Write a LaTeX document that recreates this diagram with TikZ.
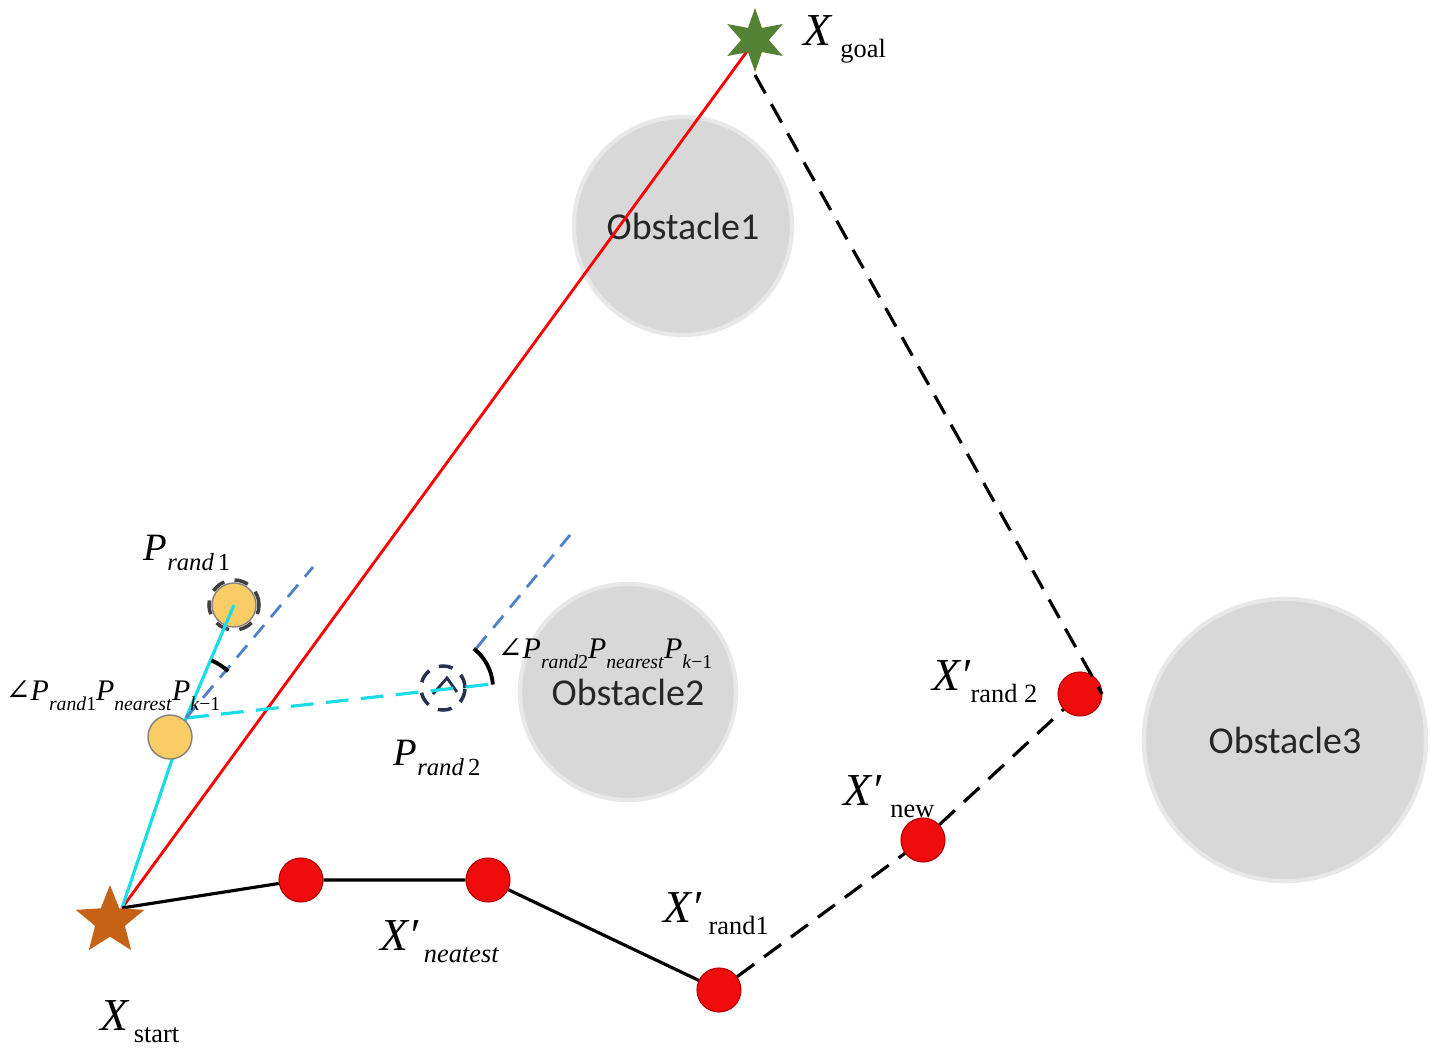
\documentclass[tikz,border=0pt]{standalone}
\usepackage{fontspec}
\setmainfont{Liberation Serif}
\newfontfamily\obsfont{Carlito}
\newfontfamily\symfont{DejaVu Serif}
\usetikzlibrary{shapes.geometric}
\definecolor{obsgray}{RGB}{216,216,216}
\definecolor{obsedge}{RGB}{232,232,232}
\definecolor{goalgreen}{RGB}{84,130,53}
\definecolor{startbrown}{RGB}{197,98,22}
\definecolor{ptred}{RGB}{240,12,12}
\definecolor{ylw}{RGB}{250,204,102}
\definecolor{cyanline}{RGB}{25,220,232}
\definecolor{blueline}{RGB}{80,130,200}
\definecolor{navy}{RGB}{40,50,80}
\newcommand\Xlab[3]{{\fontsize{13}{13}\selectfont\itshape #1}\hspace{#3}\raisebox{-3.5pt}{\fontsize{7.5}{8}\selectfont #2}}
\newcommand\Plab[3]{{\fontsize{#2}{#2}\selectfont\itshape P}\raisebox{-0.3em}{\fontsize{#3}{#3}\selectfont #1}}
\begin{document}
\begin{tikzpicture}[x=0.01cm,y=0.01cm,
  obstacle/.style={circle,fill=obsgray,draw=obsedge,line width=1.2pt,inner sep=0pt,font=\obsfont\fontsize{10.8}{12}\selectfont,text=black!85},
  waypt/.style={circle,fill=ptred,draw=red!70!black,line width=0.3pt,inner sep=0pt,minimum size=0.44cm},
  ypt/.style={circle,fill=ylw,draw=gray,line width=0.4pt,inner sep=0pt,minimum size=0.44cm},
  ring/.style={circle,draw,dashed,dash pattern=on 4pt off 3pt,line width=1pt,inner sep=0pt},
  lab/.style={inner sep=0pt,anchor=base west},
  path/.style={black,line width=0.9pt},
  pathdash/.style={black,line width=0.9pt,dash pattern=on 6pt off 3.5pt},
  cyansolid/.style={cyanline,line width=0.9pt},
  cyandash/.style={cyanline,line width=0.9pt,dash pattern=on 6.5pt off 3.5pt},
  bluedash/.style={blueline,line width=0.8pt,dash pattern=on 4.5pt off 3pt},
  anglearc/.style={black,line width=1.1pt}
]
\useasboundingbox (0,0) rectangle (1441,1056);
\fill[white] (0,0) rectangle (1441,1056);

% obstacles
\node[obstacle,minimum size=2.18cm] (o1) at (683,830) {Obstacle1};
\node[obstacle,minimum size=2.16cm] (o2) at (628,364) {Obstacle2};
\node[obstacle,minimum size=2.82cm] (o3) at (1285,316) {Obstacle3};

% key coordinates
\coordinate (S) at (122,148);
\coordinate (G) at (748,1006);
\coordinate (Gd) at (755,981);
\coordinate (R2e) at (1102,362);
\coordinate (N) at (186,338);
\coordinate (C2) at (443,368);
\coordinate (CE) at (492,372);
\coordinate (B1) at (313,489);
\coordinate (B2) at (570,521);

% red straight line
\draw[red,line width=0.8pt] (S) -- (G);

% cyan lines
\draw[cyansolid] (S) -- (N);

% waypoints
\node[waypt] (w1) at (301,176) {};
\node[waypt] (w2) at (488,176) {};
\node[waypt] (r1) at (719,66) {};
\node[waypt] (nw) at (923,216) {};
\node[waypt] (r2) at (1080,362) {};

% paths
\draw[path] (S) -- (w1) -- (w2) -- (r1);
\draw[pathdash] (r1) -- (nw) -- (r2);
\draw[pathdash] (Gd) -- (R2e);

% yellow points
\node[ypt] (pn) at (170,319) {};
\node[ypt] (p1) at (234,451) {};
\node[ring,draw=black!75,minimum size=0.5cm] (p1r) at (p1) {};
\node[ring,draw=navy,minimum size=0.44cm] (p2r) at (C2) {};
\draw[navy,line width=0.8pt] (433,362) -- (447,378) -- (457,364);

\draw[cyansolid] (N) -- (p1.center);
\draw[cyandash] (N) -- (CE);
\draw[bluedash] (N) -- (B1);
\draw[bluedash] ([shift={(50:52)}]C2) -- (B2);

% angle arcs
\draw[anglearc] ([shift={(48:63)}]N) arc[start angle=48,end angle=66,radius=63];
\draw[anglearc] ([shift={(4:50)}]C2) arc[start angle=4,end angle=52,radius=50];

% stars
\node[star,star points=6,star point ratio=2.3,fill=goalgreen,inner sep=0pt,minimum size=0.64cm] (goal) at (755,1016) {};
\node[star,star points=5,star point ratio=2.3,fill=startbrown,inner sep=0pt,minimum size=0.72cm] (start) at (110,135) {};

% labels
\node[lab] (lgoal) at (803,1011) {\Xlab{X}{goal}{2.5pt}};
\node[lab] (lstart) at (100,26) {\Xlab{X}{start}{1.5pt}};
\node[lab] (lnea) at (380,106) {\Xlab{X′}{\itshape neatest}{1.5pt}};
\node[lab] (lr1) at (663,134) {\Xlab{X′}{rand1}{2pt}};
\node[lab] (lnew) at (843,251) {\Xlab{X′}{new}{2.5pt}};
\node[lab] (lr2) at (932,366) {\Xlab{X′}{rand 2}{0pt}};
\node[lab] (lp1) at (143,496) {\Plab{\textit{rand}\,1}{11}{7}};
\node[lab] (lp2) at (393,291) {\Plab{\textit{rand}\,2}{11}{7}};
\node[lab] (la1) at (5,356) {{\symfont\fontsize{8.5}{8.5}\selectfont ∠}\Plab{\textit{rand}1}{8.5}{5.6}\Plab{\textit{nearest}}{8.5}{5.6}\Plab{\textit{k}−1}{8.5}{5.6}};
\node[lab] (la2) at (497,398) {{\symfont\fontsize{8.5}{8.5}\selectfont ∠}\Plab{\textit{rand}2}{8.5}{5.6}\Plab{\textit{nearest}}{8.5}{5.6}\Plab{\textit{k}−1}{8.5}{5.6}};
\end{tikzpicture}
\end{document}
